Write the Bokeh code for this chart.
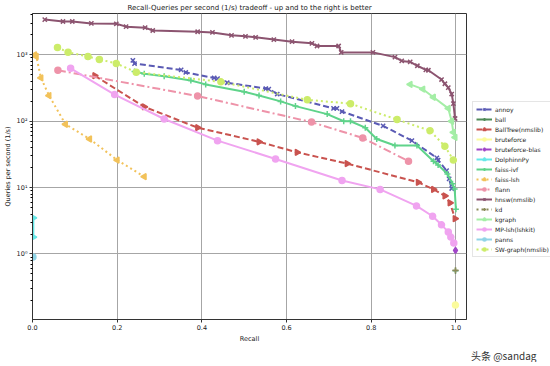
import math
from bokeh.plotting import figure
from bokeh.models import (Range1d, FixedTicker, CustomJSTickFormatter, PrintfTickFormatter,
                          Legend, LegendItem, Title)
from bokeh.embed import file_html
from bokeh.resources import INLINE

# ---------------- data ----------------
annoy_recall = [0.237, 0.241, 0.351, 0.362, 0.429, 0.437, 0.46, 0.551, 0.558, 0.578, 0.711, 0.719,
                0.731, 0.828, 0.896, 0.955, 0.958, 0.978, 0.984, 0.99]
annoy_qps = [827, 740, 593, 543, 449, 438, 380, 311, 305, 257, 156, 156, 140, 85, 51, 28, 26, 18, 13.5, 9.7]

ball_recall = [0.999]
ball_qps = [0.56]

balltree_recall = [0.147, 0.264, 0.39, 0.535, 0.625, 0.743, 0.911, 0.947, 0.974, 0.986, 0.998]
balltree_qps = [485, 165, 80, 49, 34, 23, 12, 9.4, 7.5, 5.9, 3.4]

bruteforce_recall = [0.999]
bruteforce_qps = [0.17]

bfblas_recall = [0.999]
bfblas_qps = [1.13]

dolphinn_recall = [0.002, 0.002]
dolphinn_qps = [3.5, 1.8]

ivf_recall = [0.241, 0.264, 0.311, 0.374, 0.409, 0.5, 0.535, 0.586, 0.621, 0.696, 0.735, 0.751, 0.786,
              0.813, 0.856, 0.908, 0.947, 0.958, 0.98, 0.992, 0.997, 1.0]
ivf_qps = [561, 519, 475, 411, 359, 279, 244, 199, 169, 128, 100, 100, 80, 54, 43, 43, 25, 22, 16,
           11.4, 9.5, 4.7]

flsh_recall = [0.005, 0.009, 0.02, 0.039, 0.078, 0.135, 0.2, 0.264]
flsh_qps = [1000, 945, 449, 244, 90, 54, 26, 14.6]

flann_recall = [0.06, 0.39, 0.659, 0.78, 0.888]
flann_qps = [586, 240, 97, 56, 25]

hnsw_recall = [0.029, 0.072, 0.094, 0.139, 0.198, 0.221, 0.266, 0.284, 0.39, 0.425, 0.47, 0.503, 0.527,
               0.57, 0.613, 0.66, 0.672, 0.723, 0.729, 0.804, 0.856, 0.872, 0.892, 0.909, 0.929, 0.935,
               0.966, 0.974, 0.982, 0.99, 0.994, 0.998]
hnsw_qps = [3400, 3180, 3180, 2980, 2940, 2660, 2570, 2330, 2230, 2180, 1970, 1900, 1840, 1700, 1580,
            1490, 1360, 1360, 1090, 1090, 925, 810, 783, 685, 593, 586, 425, 367, 321, 257, 184, 110]

kd_recall = [0.999]
kd_qps = [0.57]

kgraph_recall = [0.892, 0.922, 0.947, 0.982, 0.99, 0.994, 0.998]
kgraph_qps = [359, 304, 230, 156, 100, 68, 57]

mplsh_recall = [0.09, 0.194, 0.311, 0.437, 0.574, 0.731, 0.821, 0.907, 0.945, 0.966, 0.982, 0.988, 0.995]
mplsh_qps = [627, 252, 108, 51, 27, 12.8, 9.4, 5.3, 3.7, 2.75, 2.15, 1.8, 1.46]

panns_recall = [0.001]
panns_qps = [0.9]

swg_recall = [0.059, 0.084, 0.131, 0.158, 0.198, 0.245, 0.445, 0.649, 0.751, 0.861, 0.939, 0.974, 0.994]
swg_qps = [1293, 1094, 945, 855, 741, 548, 392, 210, 184, 106, 72, 42, 26]

x_ticks = [0.0, 0.2, 0.4, 0.6, 0.8, 1.0]
y_ticks = [1, 10, 100, 1000]

# name, x, y, color, dash, marker, marker angle
series = [
    ("annoy", annoy_recall, annoy_qps, "#5a5ab4", "6 3", "x", 0),
    ("ball", ball_recall, ball_qps, "#4f8a57", "solid", "cross", 0),
    ("BallTree(nmslib)", balltree_recall, balltree_qps, "#c9534f", "6 3", "triangle", -math.pi / 2),
    ("bruteforce", bruteforce_recall, bruteforce_qps, "#fbfb9c", "solid", "circle", 0),
    ("bruteforce-blas", bfblas_recall, bfblas_qps, "#a046c8", "6 3", "diamond", 0),
    ("DolphinnPy", dolphinn_recall, dolphinn_qps, "#66e8e8", "solid", "triangle", -math.pi / 2),
    ("faiss-ivf", ivf_recall, ivf_qps, "#5fd38a", "solid", "cross", 0),
    ("faiss-lsh", flsh_recall, flsh_qps, "#f2c25a", "2 3", "triangle", math.pi / 2),
    ("flann", flann_recall, flann_qps, "#ee93a9", "8 3 2 3", "circle", 0),
    ("hnsw(nmslib)", hnsw_recall, hnsw_qps, "#8c5470", "solid", "x", 0),
    ("kd", kd_recall, kd_qps, "#8b8b5a", "2 3", "cross", 0),
    ("kgraph", kgraph_recall, kgraph_qps, "#a4eea6", "solid", "triangle", math.pi / 2),
    ("MP-lsh(lshkit)", mplsh_recall, mplsh_qps, "#f0a4f0", "solid", "circle", 0),
    ("panns", panns_recall, panns_qps, "#90d4e6", "solid", "circle", 0),
    ("SW-graph(nmslib)", swg_recall, swg_qps, "#ccec6a", "2 3", "circle", 0),
]

FONT = "DejaVu Sans"

p = figure(frame_width=434, frame_height=306, y_axis_type="log",
           x_range=Range1d(0, 1.025), y_range=Range1d(0.103, 4200),
           output_backend="svg", toolbar_location=None,
           min_border_left=4, min_border_right=2, min_border_top=4, min_border_bottom=0,
           title="Recall-Queries per second (1/s) tradeoff - up and to the right is better")

p.title.text_font = FONT
p.title.text_font_size = "7px"
p.title.text_font_style = "normal"
p.title.align = "center"
p.title.text_color = "#222222"
p.title.standoff = 3

p.outline_line_color = "#333333"
p.outline_line_width = 1

p.xaxis.ticker = FixedTicker(ticks=x_ticks)
p.xaxis.formatter = PrintfTickFormatter(format="%.1f")
p.xaxis.axis_label = "Recall"
p.xaxis.minor_tick_line_color = None

minor = [k * 10.0 ** d for d in range(-1, 4) for k in range(2, 10)]
p.yaxis.ticker = FixedTicker(ticks=y_ticks, minor_ticks=minor)
p.yaxis.formatter = CustomJSTickFormatter(code="""
const sup = {'-1':'\u207b\u00b9','0':'\u2070','1':'\u00b9','2':'\u00b2','3':'\u00b3'};
const e = Math.round(Math.log10(tick));
return '10' + (sup[String(e)] || String(e));
""")
p.yaxis.axis_label = "Queries per second (1/s)"

for ax in (p.xaxis[0], p.yaxis[0]):
    ax.axis_label_text_font = FONT
    ax.axis_label_text_font_size = "6.5px"
    ax.axis_label_text_font_style = "normal"
    ax.axis_label_text_color = "#222222"
    ax.major_label_text_font = FONT
    ax.major_label_text_font_size = "6.5px"
    ax.major_label_text_color = "#222222"
    ax.axis_line_color = "#333333"
    ax.major_tick_line_color = "#333333"
    ax.major_tick_out = 3
    ax.major_tick_in = 0
    ax.minor_tick_out = 2
    ax.minor_tick_in = 0
    ax.major_label_standoff = 2
    ax.axis_label_standoff = 2

p.xgrid.grid_line_color = "#a6a6a6"
p.ygrid.grid_line_color = "#a6a6a6"

items = []
for name, xs, ys, color, dash, marker, ang in series:
    r1 = p.line(xs, ys, line_color=color, line_width=2, line_dash=dash)
    r2 = p.scatter(xs, ys, marker=marker, size=6, angle=ang,
                   line_color=color, fill_color=color, line_width=1.5)
    items.append(LegendItem(label=name, renderers=[r1, r2]))

legend = Legend(items=items, location=(6, 62))
legend.label_text_font = FONT
legend.label_text_font_size = "6px"
legend.label_text_color = "#222222"
legend.glyph_width = 16
legend.glyph_height = 8
legend.label_height = 8
legend.spacing = 2
legend.padding = 3
legend.margin = 4
legend.label_standoff = 3
legend.border_line_color = "#cccccc"
p.add_layout(legend, "right")

wm = Title(text="头条 @sandag", align="right", offset=-70, standoff=0,
           text_font="Noto Sans CJK SC", text_font_size="10px",
           text_font_style="normal", text_color="#333333")
p.add_layout(wm, "below")

open("out.html", "w").write(file_html(p, INLINE))
